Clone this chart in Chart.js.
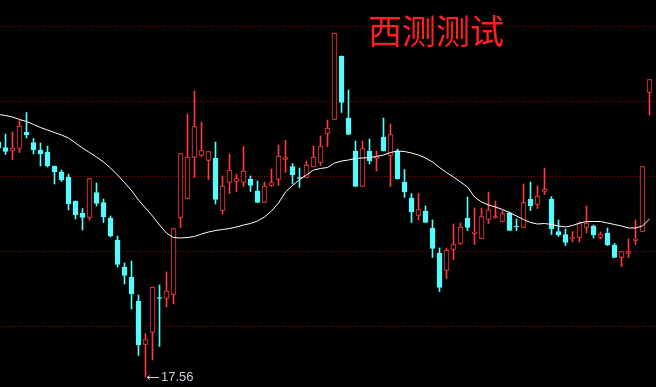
<!DOCTYPE html>
<html>
<head>
<meta charset="utf-8">
<script src="https://cdn.jsdelivr.net/npm/chart.js@4.4.1/dist/chart.umd.min.js"></script>
<style>
  html, body { margin:0; padding:0; background:#000; overflow:hidden; }
  canvas { display:block; }
</style>
</head>
<body>
<canvas id="myChart" width="656" height="387"></canvas>
<script>

const titulo = '西测测试'

// precios de cada vela (apertura, cierre, maximo, minimo)
const aperturas = [22.26,22.15,22.08,22.13,22.46,22.25,22.10,22.06,21.78,21.66,
  21.56,21.08,20.84,20.75,21.25,21.05,20.74,20.30,19.76,19.56,
  19.08,18.21,18.45,19.14,19.13,19.21,20.75,21.13,21.95,21.99,
  21.89,21.94,20.89,21.45,21.47,21.45,21.52,21.28,21.05,21.39,
  21.51,21.91,21.77,21.54,21.55,21.76,21.85,22.43,22.71,23.98,
  22.74,22.08,21.37,22.08,21.93,22.36,21.99,22.08,21.46,21.14,
  20.79,20.88,20.54,20.04,19.69,20.11,20.23,20.74,20.43,20.33,
  20.71,20.74,20.67,20.84,20.57,20.55,21.12,21.01,21.27,21.12,
  20.47,20.41,20.32,20.35,20.55,20.58,20.35,20.44,20.20,19.95,
  20.03,20.29,20.47,23.25]
const cierres = [22.14,22.07,22.14,22.58,22.40,22.10,22.02,21.78,21.66,21.50,
  21.02,20.80,20.75,21.53,21.03,20.76,20.38,19.81,19.59,19.22,
  18.20,18.31,19.36,19.13,19.28,20.53,22.03,21.96,22.57,22.09,
  22.07,21.11,21.38,21.70,21.53,21.68,21.39,21.05,21.38,21.45,
  21.98,21.95,21.60,21.53,21.80,21.96,22.18,22.54,24.44,23.05,
  22.41,21.37,22.13,21.88,21.97,22.08,22.41,21.52,21.26,20.86,
  20.91,20.65,20.13,19.35,20.10,20.21,20.56,20.55,20.46,20.77,
  20.90,20.77,20.83,20.49,20.56,21.05,20.98,21.18,21.32,20.52,
  20.40,20.25,20.35,20.63,20.64,20.40,20.42,20.20,19.95,20.07,
  20.07,20.32,21.77,23.51]
const maximos = [22.34,22.42,22.46,22.69,22.85,22.33,22.24,22.18,21.78,21.70,
  21.62,21.08,20.93,21.53,21.44,21.12,20.78,20.38,19.84,19.88,
  19.20,18.43,19.36,19.40,19.66,20.53,22.03,22.82,23.28,22.66,
  22.07,22.26,21.58,22.02,21.62,22.17,21.58,21.48,21.46,21.72,
  22.20,22.29,21.83,21.74,21.88,22.18,22.38,22.70,24.44,23.98,
  23.30,22.28,22.28,22.32,22.08,22.74,22.62,22.12,21.71,21.23,
  21.23,20.98,20.70,20.14,20.14,20.62,20.64,21.16,20.94,20.94,
  21.26,21.08,20.89,20.86,20.72,21.42,21.46,21.38,21.74,21.17,
  20.70,20.52,20.47,20.66,20.98,20.60,20.46,20.54,20.23,20.07,
  20.32,20.70,21.77,23.51]
const minimos = [22.10,22.01,21.91,22.05,22.34,22.02,21.78,21.76,21.42,21.47,
  20.90,20.72,20.50,20.70,20.98,20.65,20.36,19.76,19.42,18.92,
  17.99,17.56,17.90,18.17,18.96,19.02,20.55,21.12,21.55,21.97,
  21.51,21.02,20.82,21.23,21.27,21.37,21.27,21.05,21.05,21.37,
  21.39,21.65,21.42,21.35,21.55,21.76,21.79,22.17,22.71,22.85,
  22.41,21.37,21.37,21.82,21.68,22.08,21.37,21.52,21.15,20.65,
  20.70,20.65,19.95,19.27,19.53,19.91,20.21,20.49,20.21,20.33,
  20.63,20.73,20.67,20.49,20.49,20.55,20.89,20.93,21.21,20.41,
  20.37,20.19,20.26,20.26,20.44,20.34,20.32,20.19,19.95,19.77,
  19.95,20.21,20.47,22.80]
// media movil (linea blanca)
const media = [22.81,22.79,22.76,22.71,22.67,22.61,22.55,22.50,22.45,22.40,
  22.34,22.24,22.14,22.05,21.96,21.86,21.74,21.60,21.45,21.29,
  21.10,20.94,20.78,20.60,20.44,20.35,20.34,20.35,20.37,20.42,
  20.46,20.49,20.51,20.53,20.56,20.60,20.63,20.68,20.76,20.88,
  21.04,21.26,21.39,21.51,21.60,21.70,21.73,21.75,21.84,21.88,
  21.90,21.93,21.94,21.95,21.97,22.00,22.05,22.08,22.07,22.04,
  22.00,21.94,21.86,21.75,21.65,21.56,21.46,21.36,21.16,21.06,
  21.00,20.96,20.91,20.85,20.78,20.71,20.65,20.62,20.63,20.61,
  20.58,20.56,20.59,20.64,20.67,20.67,20.67,20.64,20.61,20.58,
  20.54,20.54,20.58,20.72]
// lineas punteadas horizontales
const lineasGuia = [18.58, 20.08, 21.58, 23.08, 24.58]
const dias = aperturas.map((v, i) => i)

const rojo = '#ff3c3c'
const cian = '#54fcfc'

function grafico_velas(){

    const ctx = document.getElementById('myChart')
    const sube = dias.map(i => cierres[i] >= aperturas[i])
    const colores = sube.map(s => s ? rojo : cian)
    const rellenos = sube.map(s => s ? '#000000' : cian)

    // flecha y texto del minimo
    const marcaMinimo = {
        id:'marcaMinimo',
        afterDatasetsDraw(chart){
            let k = 0
            minimos.forEach((v, i) => { if (v < minimos[k]) k = i })
            const c = chart.ctx
            const px = Math.round(chart.scales.x.getPixelForValue(k))
            const py = Math.round(chart.scales.y.getPixelForValue(minimos[k])) + 0.5
            c.save()
            c.strokeStyle = '#c8ccd8'
            c.lineWidth = 1
            c.beginPath()
            c.moveTo(px + 1, py); c.lineTo(px + 13, py)
            c.moveTo(px + 1, py); c.lineTo(px + 4, py - 2)
            c.moveTo(px + 1, py); c.lineTo(px + 4, py + 2)
            c.stroke()
            c.fillStyle = '#c8ccd8'
            c.font = '13px "Liberation Sans", Arial, sans-serif'
            c.textBaseline = 'middle'
            c.fillText(minimos[k].toFixed(2), px + 15, py)
            c.restore()
        }
    }

    const tituloRojo = {
        id:'tituloRojo',
        afterDraw(chart){
            const c = chart.ctx
            c.save()
            c.fillStyle = '#ff2020'
            c.font = '34px "Noto Sans CJK SC", sans-serif'
            c.textAlign = 'center'
            c.textBaseline = 'middle'
            c.fillText(titulo, 436, 31)
            c.restore()
        }
    }

    const mychart = new Chart(ctx,{
        type:'bar',
        data:{
            datasets:[{
                type:'line',
                label:'MA',
                data: dias.map(i => ({x:i, y:media[i]})),
                borderColor:'#ffffff',
                borderWidth:1,
                pointRadius:0,
                tension:0,
                order:0
            },{
                label:'cuerpo',
                data: dias.map(i => ({x:i, y:[aperturas[i], cierres[i]]})),
                backgroundColor:rellenos,
                borderColor:colores,
                borderWidth:1,
                borderSkipped:false,
                barThickness:5,
                minBarLength:1,
                grouped:false,
                order:1
            },{
                label:'mecha',
                data: dias.map(i => ({x:i, y:[minimos[i], maximos[i]]})),
                backgroundColor:colores,
                borderWidth:0,
                barThickness:1,
                grouped:false,
                order:2
            }]
        },
        options:{
            responsive:false,
            animation:false,
            layout:{padding:0},
            plugins:{
                legend:{display:false},
                tooltip:{enabled:false}
            },
            scales:{
                x:{
                    type:'linear',
                    min:1.5/7,
                    max:1.5/7 + 656/7,
                    offset:false,
                    display:false
                },
                y:{
                    min:17.36,
                    max:25.10,
                    ticks:{display:false},
                    border:{display:false, dash:[1,2]},
                    grid:{color:'#a00000', lineWidth:1, drawTicks:false},
                    afterBuildTicks: s => { s.ticks = lineasGuia.map(v => ({value:v})) }
                }
            }
        },
        plugins:[marcaMinimo, tituloRojo]
    })
}

grafico_velas()
</script>
</body>
</html>
